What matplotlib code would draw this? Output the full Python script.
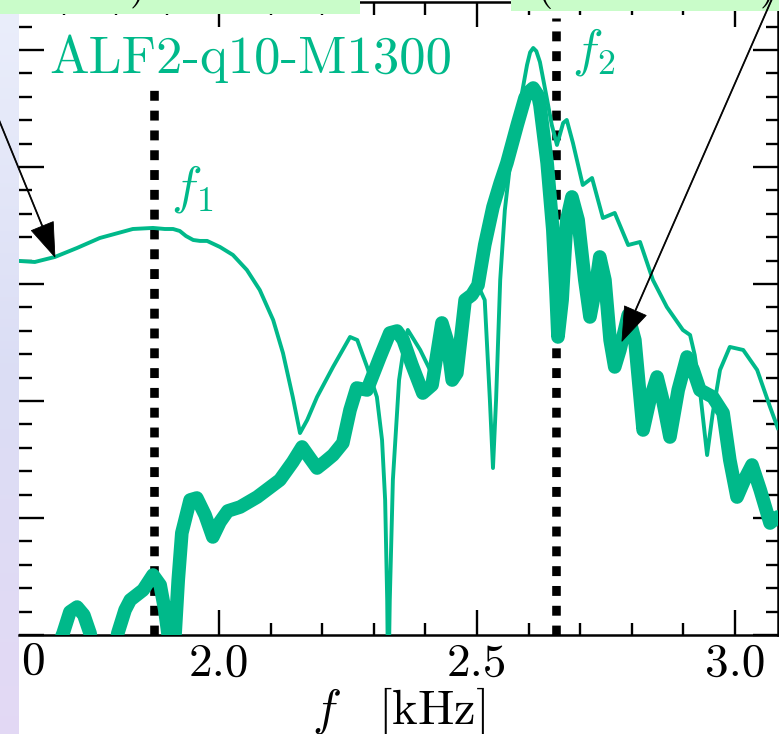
import numpy as np
import matplotlib
matplotlib.use("Agg")
import matplotlib.pyplot as plt
from matplotlib.patches import Rectangle
from matplotlib.text import Annotation
from matplotlib.ticker import MultipleLocator, FixedLocator, FixedFormatter

plt.rcParams['mathtext.fontset'] = 'cm'
plt.rcParams['font.family'] = ['cmr10', 'DejaVu Serif']
plt.rcParams['axes.formatter.use_mathtext'] = True

GREEN = '#00b98a'

# ---- data (frequency in kHz, amplitude in arbitrary log units) ----
thin_f = [1.612, 1.643, 1.682, 1.725, 1.769, 1.833, 1.872, 1.895, 1.911, 1.924,
          1.936, 1.950, 1.963, 1.977, 2.002, 2.027, 2.054, 2.079, 2.105, 2.124,
          2.143, 2.157, 2.171, 2.190, 2.221, 2.254, 2.268, 2.287, 2.306, 2.316,
          2.322, 2.326, 2.328, 2.331, 2.337, 2.349, 2.359, 2.366, 2.390, 2.409,
          2.432, 2.448, 2.467, 2.486, 2.506, 2.515, 2.525, 2.531, 2.537, 2.545,
          2.554, 2.564, 2.583, 2.597, 2.603, 2.609, 2.615, 2.622, 2.636, 2.645,
          2.655, 2.667, 2.674, 2.686, 2.705, 2.723, 2.744, 2.767, 2.793, 2.816,
          2.841, 2.868, 2.899, 2.913, 2.922, 2.932, 2.946, 2.957, 2.971, 2.990,
          3.016, 3.043, 3.068, 3.083]
thin_v = [3.197, 3.188, 3.231, 3.308, 3.393, 3.470, 3.479, 3.470, 3.470, 3.453,
          3.410, 3.376, 3.368, 3.368, 3.316, 3.248, 3.120, 2.949, 2.692, 2.410,
          2.034, 1.726, 1.838, 2.034, 2.291, 2.547, 2.521, 2.291, 2.034, 1.667,
          1.154, 0.299, -0.556, 0.299, 1.325, 2.179, 2.479, 2.607, 2.436, 2.265,
          2.650, 2.350, 2.607, 2.897, 2.949, 2.863, 2.009, 1.427, 2.009, 3.034,
          3.632, 4.017, 4.530, 4.872, 4.980, 5.017, 4.990, 4.897, 4.573, 4.359,
          4.188, 4.376, 4.402, 4.205, 3.846, 3.906, 3.564, 3.607, 3.333, 3.359,
          3.034, 2.803, 2.607, 2.564, 2.393, 2.094, 1.538, 1.897, 2.265, 2.462,
          2.436, 2.265, 1.949, 1.769]

thick_f = [1.612, 1.663, 1.698, 1.711, 1.725, 1.738, 1.750, 1.769, 1.789, 1.804,
           1.818, 1.828, 1.853, 1.872, 1.886, 1.895, 1.901, 1.907, 1.915, 1.921,
           1.928, 1.944, 1.957, 1.973, 1.988, 2.002, 2.017, 2.041, 2.074, 2.118,
           2.143, 2.161, 2.176, 2.190, 2.205, 2.221, 2.240, 2.254, 2.267, 2.287,
           2.312, 2.331, 2.345, 2.357, 2.374, 2.395, 2.413, 2.432, 2.442, 2.452,
           2.461, 2.477, 2.490, 2.502, 2.515, 2.531, 2.545, 2.558, 2.578, 2.593,
           2.600, 2.609, 2.618, 2.622, 2.636, 2.647, 2.653, 2.657, 2.665, 2.674,
           2.684, 2.696, 2.709, 2.719, 2.729, 2.738, 2.748, 2.758, 2.767, 2.777,
           2.793, 2.806, 2.822, 2.835, 2.849, 2.860, 2.874, 2.890, 2.907, 2.919,
           2.932, 2.957, 2.977, 2.990, 3.004, 3.020, 3.033, 3.049, 3.068, 3.083]
thick_v = [-0.556, -0.385, 0.017, 0.197, 0.239, 0.171, 0.017, -0.470, -0.385, 0.017,
           0.214, 0.299, 0.385, 0.513, 0.427, 0.214, 0.017, -0.470, 0.017, 0.470,
           0.872, 1.154, 1.171, 1.026, 0.838, 0.966, 1.060, 1.094, 1.179, 1.325,
           1.479, 1.607, 1.513, 1.427, 1.479, 1.538, 1.641, 1.923, 2.111, 2.094,
           2.376, 2.581, 2.598, 2.521, 2.308, 2.068, 2.137, 2.667, 2.521, 2.179,
           2.239, 2.863, 2.906, 2.991, 3.333, 3.658, 3.863, 4.034, 4.359, 4.590,
           4.640, 4.675, 4.615, 4.530, 4.034, 3.462, 2.949, 2.547, 2.863, 3.547,
           3.744, 3.547, 3.034, 2.718, 2.949, 3.231, 3.034, 2.521, 2.291, 2.436,
           2.735, 2.521, 1.752, 2.009, 2.205, 2.009, 1.692, 2.094, 2.376, 2.265,
           2.094, 2.034, 1.897, 1.496, 1.179, 1.342, 1.453, 1.239, 0.957, 1.009]

f_peaks = [1.874, 2.653]          # f1, f2 marker frequencies
f_tops = [4.70, 5.27]             # top of the dotted markers
peak_names = [r'$f_1$', r'$f_2$']
model_name = 'ALF2-q10-M1300'
xtick_vals = [2.0, 2.5, 3.0]
xtick_labels = ['2.0', '2.5', '3.0']

XMIN, XMAX = 1.6124, 3.0834
YMIN, YMAX = 0.0, 5.41

W, H = 779, 734
fig = plt.figure(figsize=(W / 100, H / 100), dpi=100)
fig.patch.set_facecolor('white')

# left gradient strip
gax = fig.add_axes([0, 0, 19 / W, 1])
top = np.array([0.92, 0.935, 0.985])
mid = np.array([0.86, 0.87, 0.96])
bot = np.array([0.89, 0.85, 0.96])
t = np.linspace(0, 1, 200)[:, None]
grad = np.where(t < 0.5, top + (mid - top) * (t / 0.5), mid + (bot - mid) * ((t - 0.5) / 0.5))
gax.imshow(grad[:, None, :].repeat(2, axis=1), aspect='auto', extent=[0, 1, 0, 1])
gax.set_axis_off()

ax = fig.add_axes([19 / W, (H - 635) / H, (778 - 19) / W, 633 / H])
ax.set_xlim(XMIN, XMAX)
ax.set_ylim(YMIN, YMAX)

# dotted markers
for fp, ft in zip(f_peaks, f_tops):
    ax.plot([fp, fp], [YMIN, ft], color='black', lw=6.2,
            linestyle=(0, (1.15, 1.15)), dash_capstyle='butt', zorder=2)

ax.plot(thick_f, thick_v, color=GREEN, lw=9.8, solid_joinstyle='round',
        solid_capstyle='round', zorder=3)
ax.plot(thin_f, thin_v, color=GREEN, lw=2.8, solid_joinstyle='round', zorder=4)

# texts
ax.text(0.040, 0.888, model_name, transform=ax.transAxes, color=GREEN,
        fontsize=38, va='baseline', ha='left', family='cmr10')
ax.text(f_peaks[0] + 0.033, (635 - 203) / 117, peak_names[0], color=GREEN,
        fontsize=37, va='baseline', ha='left')
ax.text(f_peaks[1] + 0.031, (635 - 66) / 117, peak_names[1], color=GREEN,
        fontsize=37, va='baseline', ha='left')

# axes styling
for s in ['top', 'bottom', 'right']:
    ax.spines[s].set_linewidth(1.8)
ax.spines['left'].set_visible(False)
ax.xaxis.set_major_locator(FixedLocator(xtick_vals))
ax.xaxis.set_major_formatter(FixedFormatter(xtick_labels))
ax.xaxis.set_minor_locator(MultipleLocator(0.1))
ax.yaxis.set_major_locator(MultipleLocator(1.0))
ax.yaxis.set_minor_locator(MultipleLocator(0.2))
ax.tick_params(which='both', direction='in', top=True, right=True, left=True, bottom=True)
ax.tick_params(which='major', length=18, width=1.7, labelsize=34, pad=6)
ax.tick_params(which='minor', length=9, width=1.7)
ax.tick_params(axis='y', labelleft=False)
for lab in ax.get_xticklabels():
    lab.set_family('cmr10')
ax.set_xlabel(r'$f\quad[\mathrm{kHz}]$', fontsize=35, labelpad=0)

# leftover tick label from neighbouring panel
fig.text(33 / W, (H - 641) / H, '0', fontsize=34, family='cmr10',
         ha='center', va='top')

# green label boxes on top edge
fig.add_artist(Rectangle((0, (H - 14) / H), 360 / W, 14 / H, transform=fig.transFigure,
                         facecolor='#c9fcc9', edgecolor='none', zorder=5))
fig.add_artist(Rectangle((511 / W, (H - 11) / H), (W - 511) / W, 11 / H, transform=fig.transFigure,
                         facecolor='#c9fcc9', edgecolor='none', zorder=5))
for xp, ch in [(138, ')'), (545, '('), (768, ')')]:
    fig.text(xp / W, (H + 2) / H, ch, fontsize=30, family='cmr10', ha='center',
             va='baseline', zorder=6)

# arrows from label boxes
arrow_kw = dict(facecolor='black', edgecolor='black', width=0.7, headwidth=17,
                headlength=24, shrink=0.0, lw=0.6)
tip1 = (thin_f[2], thin_v[2])
fx2 = 2.781
tip2 = (fx2, float(np.interp(fx2, thick_f, thick_v)))
for tip, start in [(tip1, (-50, H)), (tip2, (775, H + 8))]:
    ann = Annotation('', xy=tip, xycoords=ax.transData, xytext=start,
                     textcoords='figure pixels', arrowprops=arrow_kw,
                     annotation_clip=False)
    ann.set_zorder(7)
    fig.add_artist(ann)

fig.savefig('out.png', dpi=100)
